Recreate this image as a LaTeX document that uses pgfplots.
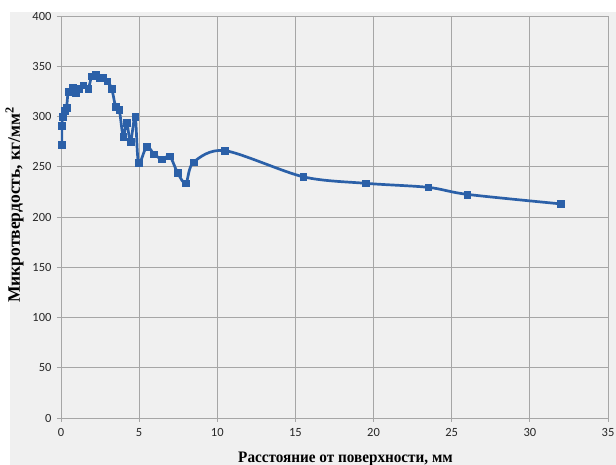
\documentclass[border=0pt]{standalone}
\usepackage{pgfplots}
\pgfplotsset{compat=1.18}
\usepackage{fontspec}
\setmainfont{Liberation Serif}
\newfontfamily\tickfont{Carlito}
\definecolor{bg}{HTML}{F0F0F0}
\definecolor{gridc}{HTML}{A6A6A6}
\definecolor{serie}{HTML}{2B60A8}
\begin{document}
\begin{tikzpicture}
\path[use as bounding box, fill=white] (-61pt,-47pt) rectangle (555pt,418pt);
\fill[bg] (-51pt,-47pt) rectangle (555pt,406pt);
\begin{axis}[
  at={(0,0)}, anchor=south west,
  scale only axis, width=547pt, height=402pt,
  xmin=0, xmax=35, ymin=0, ymax=400,
  xtick={0,5,...,35}, ytick={0,50,...,400},
  grid=major, major grid style={gridc, line width=0.8pt},
  axis line style={gridc, line width=0.8pt},
  axis x line*=bottom, axis y line*=left,
  tick style={gridc, line width=0.8pt},
  tick align=outside, major tick length=4pt,
  ticklabel style={font=\tickfont\fontsize{12.5}{14}\selectfont, text=black!85},
  /pgf/number format/assume math mode=true,
  xticklabel style={yshift=-3pt},
  yticklabel style={xshift=-2pt},
  xlabel={\bfseries Расстояние от поверхности, мм},
  ylabel={\bfseries Микротвердость, кг/мм$^{\mathbf{2}}$},
  xlabel style={font=\fontsize{16}{18}\selectfont, yshift=-8pt, xshift=11pt, xscale=0.95},
  ylabel style={font=\fontsize{17.5}{19}\selectfont, yshift=2pt, xshift=12pt},
]
\addplot[serie, line width=2.7pt, smooth, tension=0.5, mark=square*, mark size=3.4pt,
  mark options={fill=serie, line width=0.5pt}]
coordinates {
(0.04,272) (0.06,291) (0.11,300) (0.26,306) (0.36,309) (0.47,325)
(0.75,328.5) (0.96,324) (1.17,327.5) (1.42,331) (1.74,327.5)
(1.96,340) (2.24,342) (2.49,338.5) (2.70,338.5) (2.96,335)
(3.24,328) (3.50,309.5) (3.73,306.5) (3.98,280) (4.20,294)
(4.45,275) (4.75,300) (4.96,254) (5.48,270) (5.96,262.5)
(6.47,257.5) (6.96,260.5) (7.46,244) (7.99,233.5) (8.48,254.5)
(10.5,266) (15.5,240) (19.5,233.5) (23.5,229.5) (26,222.5) (32,213)
};
\end{axis}
\end{tikzpicture}
\end{document}
